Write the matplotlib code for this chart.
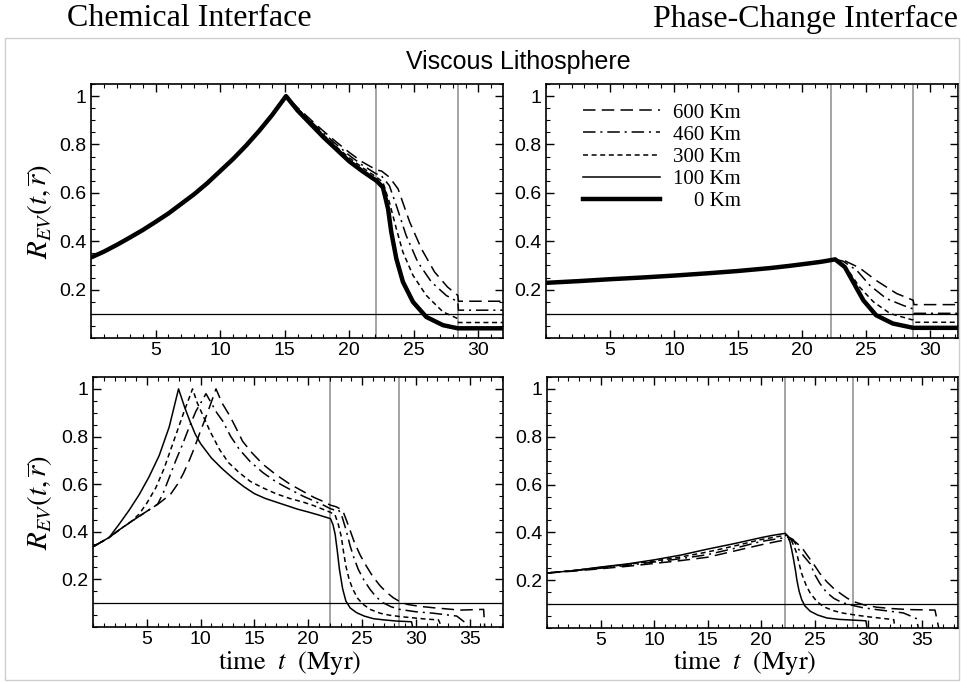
import numpy as np
import matplotlib
matplotlib.use('Agg')
import matplotlib.pyplot as plt
from matplotlib.ticker import MultipleLocator, FuncFormatter
from matplotlib.patches import Rectangle

plt.rcParams['font.family'] = ['Liberation Sans', 'DejaVu Sans']
plt.rcParams['mathtext.fontset'] = 'stix'
plt.rcParams['lines.scale_dashes'] = False

labels = ['600 Km', '460 Km', '300 Km', '100 Km', '\u2007\u20070 Km']

# ---- top left: chemical interface, viscous lithosphere
tl_rise_t = [0, 1, 2, 3, 4, 5, 6, 7, 8, 9, 10, 11, 12, 13, 14, 15.1]
tl_rise_v = [0.333, 0.357, 0.385, 0.415, 0.446, 0.48, 0.515, 0.555, 0.595, 0.64, 0.69, 0.74, 0.795, 0.855, 0.92, 1.0]
tl_600_t = [15.1, 16, 17, 18, 19, 20, 21, 22.1, 22.5, 23.1, 23.77, 24.67, 25.58, 26.6, 27.6, 28.4, 28.45, 31.9]
tl_600_v = [1.0, 0.952, 0.903, 0.855, 0.81, 0.767, 0.728, 0.695, 0.69, 0.665, 0.617, 0.48, 0.369, 0.273, 0.211, 0.176, 0.152, 0.152]
tl_460_t = [15.1, 16, 17, 18, 19, 20, 21, 22.1, 22.4, 23.1, 23.64, 24.4, 25.3, 26.35, 27.5, 28.4, 28.45, 31.9]
tl_460_v = [1.0, 0.948, 0.897, 0.847, 0.8, 0.755, 0.715, 0.678, 0.676, 0.63, 0.548, 0.424, 0.314, 0.232, 0.176, 0.15, 0.115, 0.115]
tl_300_t = [15.1, 16, 17, 18, 19, 20, 21, 22.1, 22.6, 23.1, 23.64, 24.15, 24.93, 25.96, 27.25, 28.4, 28.45, 31.9]
tl_300_v = [1.0, 0.945, 0.892, 0.84, 0.79, 0.745, 0.705, 0.665, 0.644, 0.562, 0.452, 0.355, 0.259, 0.176, 0.108, 0.08, 0.064, 0.064]
tl_100_t = [15.1, 16, 17, 18, 19, 20, 21, 22.1, 22.65, 23.05, 23.3, 23.7, 24.2, 25.0, 26.0, 27.3, 28.4, 31.9]
tl_100_v = [1.0, 0.941, 0.886, 0.832, 0.782, 0.732, 0.692, 0.652, 0.625, 0.536, 0.44, 0.33, 0.235, 0.152, 0.09, 0.056, 0.043, 0.043]
tl_0_t = [15.1, 16, 17, 18, 19, 20, 21, 22.1, 22.6, 23.0, 23.25, 23.64, 24.15, 24.93, 25.96, 27.25, 28.4, 31.9]
tl_0_v = [1.0, 0.94, 0.885, 0.83, 0.78, 0.73, 0.69, 0.65, 0.623, 0.534, 0.438, 0.328, 0.232, 0.149, 0.087, 0.053, 0.04, 0.04]

# ---- top right: phase-change interface, viscous lithosphere
tr_rise_t = [0, 2.5, 5, 7.5, 10, 12.5, 15, 17.5, 19, 20.5, 21.5, 22.6]
tr_rise_v = [0.228, 0.235, 0.243, 0.25, 0.258, 0.267, 0.277, 0.289, 0.298, 0.308, 0.315, 0.325]
tr_600_t = [22.6, 23.4, 24.5, 25.8, 27.4, 28.7, 28.75, 32.2]
tr_600_v = [0.325, 0.318, 0.29, 0.238, 0.184, 0.156, 0.138, 0.138]
tr_460_t = [22.6, 23.2, 24.3, 25.3, 26.6, 27.9, 28.7, 28.75, 32.2]
tr_460_v = [0.325, 0.318, 0.279, 0.218, 0.163, 0.135, 0.12, 0.102, 0.102]
tr_300_t = [22.6, 23.0, 23.7, 24.5, 25.6, 26.9, 28.7, 28.75, 32.2]
tr_300_v = [0.325, 0.315, 0.273, 0.211, 0.149, 0.101, 0.074, 0.065, 0.065]
tr_100_t = [22.6, 23.4, 24.05, 24.85, 25.85, 27.15, 28.7, 32.2]
tr_100_v = [0.325, 0.293, 0.233, 0.157, 0.096, 0.062, 0.045, 0.045]
tr_0_t = [22.6, 23.36, 24.0, 24.8, 25.8, 27.1, 28.7, 32.2]
tr_0_v = [0.325, 0.293, 0.232, 0.156, 0.094, 0.06, 0.042, 0.042]

# ---- bottom left: chemical interface
bl_600_t = [0, 1.5, 2.5, 3.66, 4.9, 6.15, 7.2, 7.86, 8.4, 8.95, 9.4, 9.88, 10.35, 10.8, 11.43,
            12.0, 12.67, 13.3, 13.9, 14.8, 15.8, 17.0, 18.3, 19.5, 20.5, 21.5, 22.05,
            22.6, 23.2, 23.7, 24.3, 24.85, 25.4, 26.0, 26.7, 27.3, 27.9, 28.5, 29.2, 30.3,
            31.6, 34.1, 36.3, 36.4]
bl_600_v = [0.337, 0.376, 0.41, 0.446, 0.483, 0.52, 0.557, 0.6, 0.645, 0.7, 0.75, 0.81, 0.865, 0.92, 1.0,
            0.94, 0.89, 0.835, 0.78, 0.73, 0.683, 0.64, 0.6, 0.57, 0.545, 0.525, 0.512,
            0.505, 0.49, 0.43, 0.354, 0.3, 0.256, 0.212, 0.172, 0.145, 0.123, 0.107, 0.095, 0.087,
            0.081, 0.071, 0.074, 0.0]
bl_460_t = [0, 1.5, 2.5, 3.66, 4.9, 6.0, 6.5, 7.08, 7.7, 8.32, 8.9, 9.57, 10.0, 10.5,
            11.0, 11.5, 12.05, 12.8, 13.6, 14.6, 15.8, 17.0, 18.3, 19.5, 20.5, 21.5, 22.05,
            22.4, 22.8, 23.1, 23.5, 23.9, 24.25, 24.65, 25.2, 25.75, 26.3, 26.95, 27.7, 28.5,
            30.0, 31.6, 33.8, 34.6, 34.8]
bl_460_v = [0.337, 0.376, 0.41, 0.446, 0.483, 0.515, 0.56, 0.627, 0.7, 0.767, 0.835, 0.907, 0.94, 0.98,
            0.94, 0.9, 0.865, 0.8, 0.746, 0.695, 0.648, 0.61, 0.578, 0.55, 0.53, 0.51, 0.497,
            0.492, 0.493, 0.47, 0.41, 0.34, 0.29, 0.242, 0.195, 0.158, 0.127, 0.102, 0.085, 0.074,
            0.064, 0.058, 0.046, 0.018, 0.0]
bl_300_t = [0, 1.5, 2.5, 3.6, 4.28, 5.0, 5.84, 6.6, 7.39, 8.0, 8.48, 9.25,
            9.7, 10.2, 10.9, 11.75, 12.6, 13.6, 14.6, 15.76, 17.0, 18.27, 19.5, 20.5, 21.5, 22.05,
            22.5, 22.8, 23.07, 23.3, 23.5, 23.8, 24.15, 24.6, 25.1, 25.8, 26.67, 27.5, 28.5,
            31.0, 32.1, 32.4]
bl_300_v = [0.337, 0.376, 0.41, 0.445, 0.474, 0.52, 0.585, 0.665, 0.767, 0.845, 0.907, 1.0,
            0.94, 0.89, 0.82, 0.746, 0.69, 0.648, 0.612, 0.585, 0.56, 0.54, 0.525, 0.51, 0.492, 0.482,
            0.47, 0.43, 0.38, 0.31, 0.256, 0.2, 0.158, 0.12, 0.095, 0.073, 0.058, 0.05, 0.044,
            0.033, 0.03, 0.0]
bl_100_t = [0, 1.5, 2.4, 3.35, 4.28, 5.2, 6.15, 7.08, 7.95,
            8.5, 9.0, 9.5, 10.0, 11.0, 12.0, 13.0, 14.0, 15.0, 16.0, 17.0, 18.0, 19.0, 20.0, 21.0, 22.07,
            22.3, 22.5, 22.7, 22.9, 23.2, 23.5, 23.9, 24.5, 25.2, 26.05, 27.0, 28.2, 29.6, 29.7]
bl_100_v = [0.337, 0.376, 0.43, 0.49, 0.555, 0.63, 0.72, 0.84, 1.0,
            0.925, 0.865, 0.81, 0.77, 0.71, 0.665, 0.625, 0.59, 0.56, 0.54, 0.525, 0.51, 0.495, 0.483, 0.47, 0.455,
            0.43, 0.39, 0.32, 0.242, 0.16, 0.109, 0.08, 0.06, 0.046, 0.035, 0.03, 0.025, 0.022, 0.0]

# ---- bottom right: phase-change interface
br_600_t = [0, 2.5, 5, 7.5, 10, 12.5, 15, 17.5, 20, 21.5, 22.7, 23.2, 23.8, 24.3, 24.9, 25.5, 26.15,
            26.8, 27.4, 28.0, 28.6, 29.6, 30.8, 32.3, 33.9, 36.25, 36.6]
br_600_v = [0.23, 0.238, 0.248, 0.258, 0.27, 0.282, 0.296, 0.322, 0.348, 0.362, 0.372, 0.36, 0.337, 0.305,
            0.268, 0.228, 0.193, 0.165, 0.145, 0.126, 0.111, 0.097, 0.087, 0.081, 0.077, 0.075, 0.0]
br_460_t = [0, 2.5, 5, 7.5, 10, 12.5, 15, 17.5, 20, 21.5, 22.6, 23.0, 23.5, 24.0, 24.6, 25.0, 25.5,
            26.1, 26.8, 27.5, 28.3, 29.5, 30.8, 33.3, 34.5, 34.7]
br_460_v = [0.23, 0.24, 0.25, 0.262, 0.276, 0.29, 0.307, 0.333, 0.362, 0.373, 0.38, 0.37, 0.33, 0.3,
            0.268, 0.225, 0.186, 0.15, 0.124, 0.108, 0.097, 0.085, 0.077, 0.063, 0.04, 0.0]
br_300_t = [0, 2.5, 5, 7.5, 10, 12.5, 15, 17.5, 20, 21.5, 22.4, 22.8, 23.1, 23.35, 23.55, 23.8, 24.2,
            24.6, 25.2, 25.8, 26.7, 27.7, 29.0, 30.2, 32.4, 32.5]
br_300_v = [0.23, 0.241, 0.253, 0.266, 0.28, 0.297, 0.318, 0.343, 0.37, 0.382, 0.388, 0.37, 0.34, 0.31,
            0.27, 0.227, 0.18, 0.145, 0.112, 0.09, 0.073, 0.062, 0.053, 0.046, 0.035, 0.0]
br_100_t = [0, 2.5, 5, 7.5, 10, 12.5, 15, 17.5, 20, 21.0, 22.26, 22.5, 22.7, 22.85, 23.0, 23.2, 23.35,
            23.55, 23.8, 24.1, 24.6, 25.3, 26.15, 27.3, 28.6, 29.8, 29.9]
br_100_v = [0.23, 0.24, 0.255, 0.268, 0.285, 0.305, 0.33, 0.353, 0.378, 0.387, 0.396, 0.385, 0.36, 0.33,
            0.296, 0.245, 0.2, 0.155, 0.118, 0.092, 0.07, 0.054, 0.042, 0.036, 0.033, 0.03, 0.0]

# vertical marker times per panel and threshold
tl_vlines = [22.1, 28.4]
tr_vlines = [22.3, 28.7]
bl_vlines = [22.05, 28.4]
br_vlines = [22.2, 28.55]
threshold = 0.1

line_styles = [
    dict(color='black', lw=1.1, dashes=(9, 4.5)),
    dict(color='black', lw=1.1, dashes=(9, 3.5, 1.5, 3.5)),
    dict(color='black', lw=1.1, dashes=(3.6, 2.6)),
    dict(color='black', lw=1.1, ls='-'),
    dict(color='black', lw=3.2, ls='-'),
]

fig = plt.figure(figsize=(9.61, 6.83), dpi=100)
W, H = 961.0, 683.0


def add_axes(left, top, right, bottom):
    return fig.add_axes([left / W, 1 - bottom / H, (right - left) / W, (bottom - top) / H])


ax_tl = add_axes(91, 84, 503, 338)
ax_tr = add_axes(546, 84, 958, 338)
ax_bl = add_axes(93, 377, 503, 627)
ax_br = add_axes(547, 377, 958, 628)


def style(ax, xmax, vlines):
    for v in vlines:
        ax.axvline(v, color='#8c8c8c', lw=1.1, zorder=1)
    ax.axhline(threshold, color='black', lw=0.9, zorder=1)
    ax.set_xlim(0, xmax)
    ax.set_ylim(0, 1.05)
    ax.set_xticks(np.arange(5, xmax, 5))
    ax.set_yticks([0.2, 0.4, 0.6, 0.8, 1.0])
    ax.xaxis.set_minor_locator(MultipleLocator(1))
    ax.yaxis.set_minor_locator(MultipleLocator(0.05))
    ax.yaxis.set_major_formatter(FuncFormatter(lambda v, p: '%g' % v))
    ax.tick_params(which='both', direction='in', top=True, right=True,
                   labelsize=14, pad=3)
    ax.tick_params(which='major', length=6, width=1)
    ax.tick_params(which='minor', length=3, width=0.8)
    for s in ax.spines.values():
        s.set_linewidth(1.2)


top_left = [(tl_600_t, tl_600_v), (tl_460_t, tl_460_v), (tl_300_t, tl_300_v),
            (tl_100_t, tl_100_v), (tl_0_t, tl_0_v)]
for (t, v), st in zip(top_left, line_styles):
    ax_tl.plot(tl_rise_t + t[1:], tl_rise_v + v[1:], **st)
style(ax_tl, 31.9, tl_vlines)

top_right = [(tr_600_t, tr_600_v), (tr_460_t, tr_460_v), (tr_300_t, tr_300_v),
             (tr_100_t, tr_100_v), (tr_0_t, tr_0_v)]
handles = []
for (t, v), st, lab in zip(top_right, line_styles, labels):
    h, = ax_tr.plot(tr_rise_t + t[1:], tr_rise_v + v[1:], label=lab, **st)
    handles.append(h)
style(ax_tr, 32.2, tr_vlines)
ax_tr.legend(handles=handles, loc='upper left', bbox_to_anchor=(0.09, 0.925),
             frameon=False, handlelength=3.7, handletextpad=0.6, labelspacing=0.12,
             borderaxespad=0, borderpad=0,
             prop={'family': ['Liberation Serif', 'DejaVu Serif'], 'size': 15})

bottom_left = [(bl_600_t, bl_600_v), (bl_460_t, bl_460_v), (bl_300_t, bl_300_v), (bl_100_t, bl_100_v)]
for (t, v), st in zip(bottom_left, line_styles):
    ax_bl.plot(t, v, **st)
style(ax_bl, 38.1, bl_vlines)

bottom_right = [(br_600_t, br_600_v), (br_460_t, br_460_v), (br_300_t, br_300_v), (br_100_t, br_100_v)]
for (t, v), st in zip(bottom_right, line_styles):
    ax_br.plot(t, v, **st)
style(ax_br, 38.4, br_vlines)

xlab = r'$\mathrm{time}\ \ t\ \ (\mathrm{Myr})$'
ylab = r'$R_{EV}(t,\overline{r})$'
fig.text(290 / W, 1 - 663 / H, xlab, ha='center', va='center', fontsize=19)
fig.text(745 / W, 1 - 663 / H, xlab, ha='center', va='center', fontsize=19)
fig.text(40 / W, 1 - 211 / H, ylab, rotation=90, ha='center', va='center', fontsize=21)
fig.text(40 / W, 1 - 502 / H, ylab, rotation=90, ha='center', va='center', fontsize=21)

fig.text(189 / W, 1 - 19 / H, 'Chemical Interface', ha='center', va='center',
         family='Liberation Serif', fontsize=23)
fig.text(958 / W, 1 - 19 / H, 'Phase-Change Interface', ha='right', va='center',
         family='Liberation Serif', fontsize=23)
fig.text(518 / W, 1 - 62 / H, 'Viscous Lithosphere', ha='center', va='center', fontsize=18)

fig.patches.append(Rectangle((5 / W, 1 - 680 / H), 954 / W, 642 / H, transform=fig.transFigure,
                             fill=False, ec='#cfcfcf', lw=1))

fig.savefig('out.png', dpi=100)
